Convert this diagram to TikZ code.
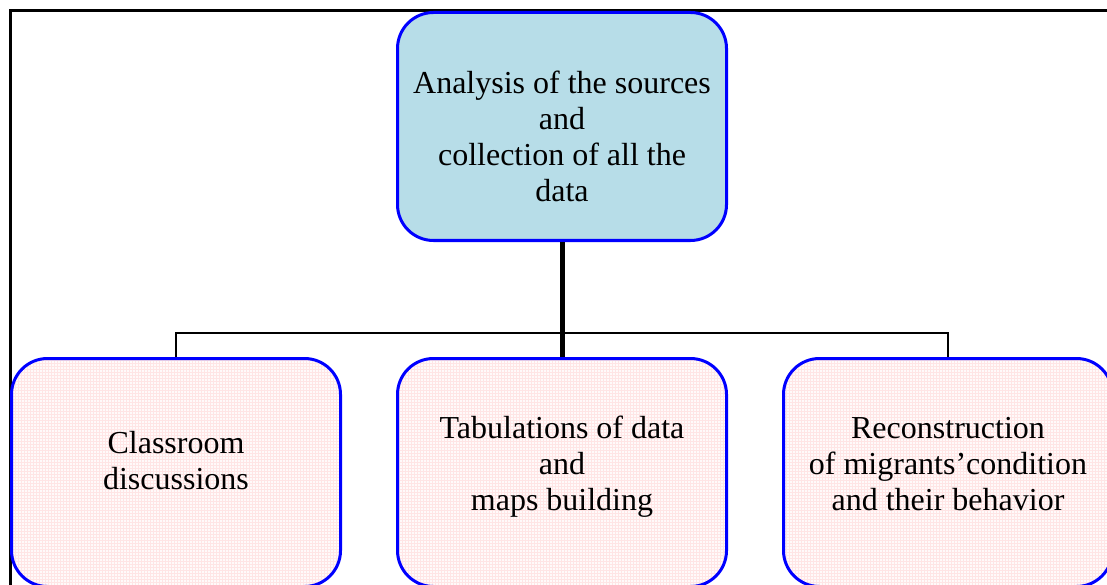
\documentclass[tikz,border=0pt]{standalone}
\usepackage{fontspec}
\setmainfont{Liberation Serif}
\usetikzlibrary{positioning, patterns}
\definecolor{topfill}{RGB}{183,221,232}
\definecolor{boxblue}{RGB}{0,0,255}
% text of a box, moved up or down without changing the box
\newcommand{\boxtext}[2]{\raisebox{#1}[\height][\depth]{\begin{tabular}{@{}c@{}}#2\end{tabular}}}
\tikzset{
x=1pt, y=-1pt, % pixel like units, y goes down
every node/.style={font=\fontsize{32}{36}\selectfont, align=center}, % text of all boxes
box/.style={draw=boxblue, line width=3pt, rounded corners=36pt, minimum width=329pt, minimum height=228pt}, % the rounded boxes
headbox/.style={box, fill=topfill}, % the box on top
taskbox/.style={box, preaction={fill=red!2}, pattern=grid, pattern color=red!10}, % the three boxes below
link/.style={line width=2.2pt}, % thin connectors
trunk/.style={line width=5pt}, % the thick connector
}
\begin{document}
\begin{tikzpicture}
            \useasboundingbox (0,0) rectangle (1107,585);
            \clip (0,0) rectangle (1107,585);
            \draw[line width=3pt] (10,11) rectangle (1120,600);

            \node[headbox] (src) at (562,126.5) {\boxtext{-14pt}{Analysis of the sources\\and\\collection of all the\\data}};
            \node[taskbox, below=115pt of src] (tab) {\boxtext{5pt}{Tabulations of data\\and\\maps building}};
            \node[taskbox, left=54pt of tab] (cls) {\boxtext{8pt}{Classroom\\discussions}};
            \node[taskbox, right=54pt of tab] (rec) {\boxtext{5pt}{Reconstruction\\of migrants'condition\\and their behavior}};

            \draw[link] (cls.north) -- ++(0,-24) -| (rec.north);
            \draw[trunk] (src.south) -- (tab.north);
        \end{tikzpicture}
\end{document}
